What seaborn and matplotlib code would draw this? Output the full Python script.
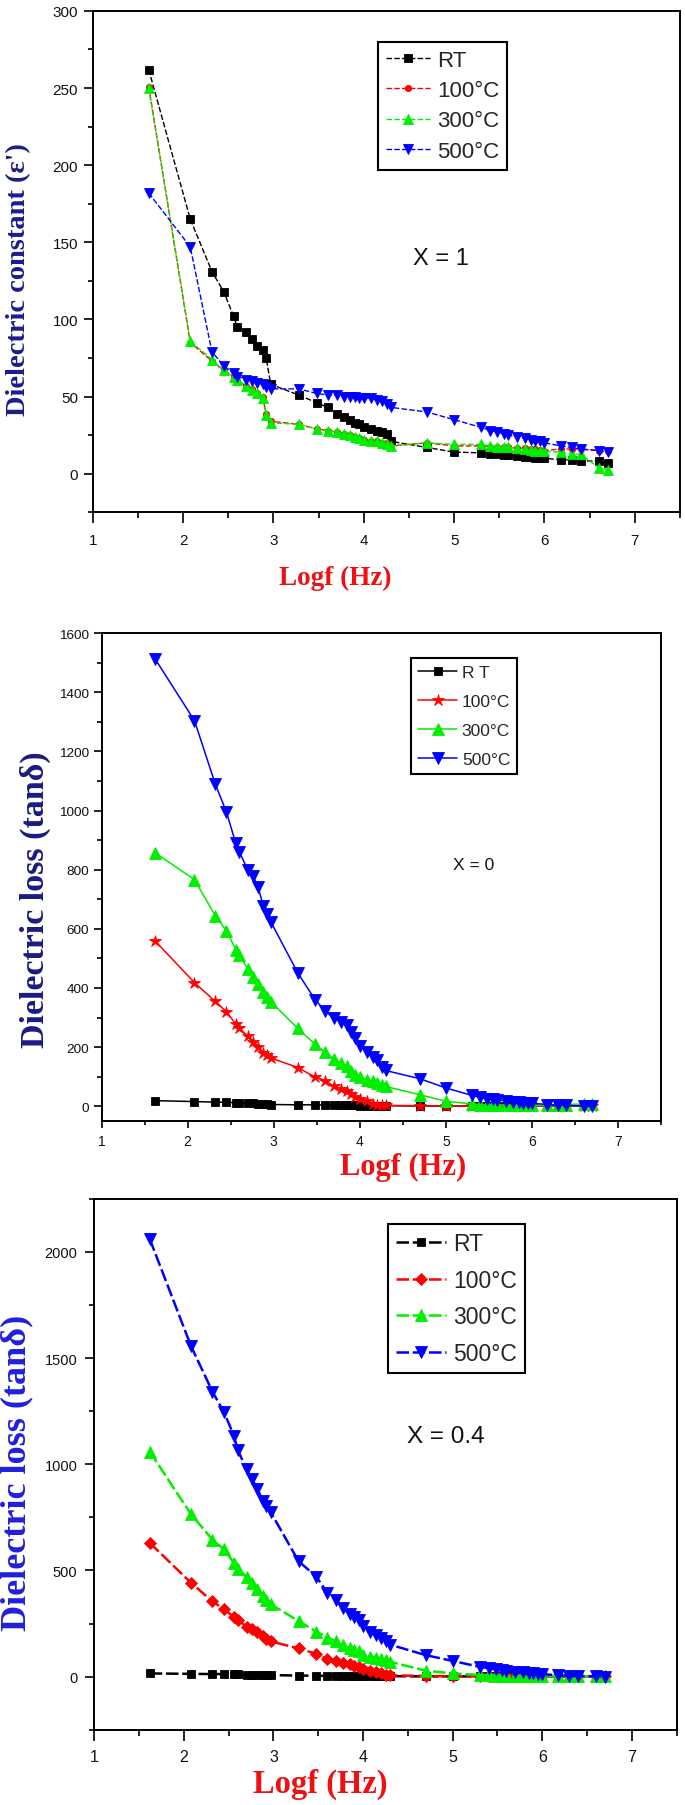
import matplotlib
matplotlib.use("Agg")
import matplotlib.pyplot as plt
from matplotlib.ticker import MultipleLocator
from matplotlib import font_manager
import seaborn as sns

sns.set_theme(style="ticks")
_avail = {f.name for f in font_manager.fontManager.ttflist}
NARROW = "Liberation Sans Narrow" if "Liberation Sans Narrow" in _avail else "Liberation Sans"
SANS = "Liberation Sans"
SERIF = "Liberation Serif"
plt.rcParams["font.family"] = [SANS, "DejaVu Sans"]

# ---------------- data ----------------
logf = [1.62, 2.08, 2.32, 2.45, 2.56, 2.60, 2.70, 2.76, 2.82, 2.88, 2.92, 2.97,
        3.28, 3.48, 3.60, 3.70, 3.78, 3.85, 3.90, 3.95, 4.00, 4.08, 4.15, 4.20,
        4.26, 4.30, 4.70, 5.00, 5.30, 5.40, 5.48, 5.55, 5.60, 5.70, 5.78, 5.85,
        5.90, 5.95, 6.00, 6.18, 6.30, 6.40, 6.60, 6.70]

legend_labels = ["RT", "100°C", "300°C", "500°C"]

# Panel 1: dielectric constant, X = 1
eps_RT = [262, 165, 131, 118, 102, 95, 92, 87, 83, 80, 75, 58, 51, 46, 43, 39, 37, 35, 33, 32,
          30, 29, 28, 27, 26, 21, 17, 14, 13.5, 13, 12.5, 12, 12, 11.5, 11, 11, 10.5, 10, 10, 9,
          9, 8.5, 8, 7]
eps_100 = [251, 85, 73, 67, 63, 60, 57, 55, 52, 50, 39, 34, 32, 29, 28, 27, 26, 25, 24, 23,
           22, 21, 21, 20, 20, 18, 20, 18, 18, 17.5, 17, 17, 17, 16.5, 16.5, 16, 16, 15.5, 15, 16,
           16, 16, 15, 15]
eps_300 = [250, 86, 74, 67, 63, 61, 57, 54, 52, 49, 38, 33, 32, 29, 28, 27, 26, 25, 24, 23,
           22, 21.5, 21, 20, 19.5, 18, 20, 19, 19, 18, 17.5, 17, 17, 16.5, 16, 15.5, 15, 15, 14.5, 14,
           13, 12.5, 4, 2.5]
eps_500 = [182, 147, 79, 70, 65, 63, 61, 60, 59, 58, 56, 55, 55, 52, 51, 51, 50, 50, 50, 49,
           49, 49, 48, 47, 45, 43, 40, 35, 30, 28, 27, 26, 25, 24, 23, 22, 21, 21, 20, 18,
           17, 16, 15, 14]

# Panel 2: dielectric loss, X = 0
loss0_RT = [19, 16, 14, 14, 12, 11, 10, 10, 9, 8, 7, 6, 5, 5, 4, 4, 3, 3, 3, 3,
            2, 2, 2, 2, 2, 2, 1, 1, 1, 1, 1, 1, 1, 1, 1, 1, 1, 1, 1, 1,
            1, 1, 1, 1]
loss0_100 = [560, 418, 355, 320, 278, 263, 238, 219, 202, 179, 172, 163, 131, 99, 87, 67, 59, 52, 41, 33,
             24, 17, 9, 5, 4, 3, 2, 1, 1, 1, 1, 0.5, 0.5, 0.5, 0.5, 0.5, 0.5, 0.5, 0.5, 0.5,
             0.5, 0.5, 0.5, 0.5]
loss0_300 = [858, 766, 645, 594, 530, 510, 465, 437, 415, 387, 370, 353, 263, 210, 182, 160, 146, 135, 120, 106,
             98, 90, 84, 78, 73, 67, 39, 17, 8, 6, 5, 4, 4, 3, 3, 3, 3, 3, 3, 4,
             5, 6, 8, 8]
loss0_500 = [1514, 1304, 1091, 996, 889, 861, 799, 779, 740, 678, 650, 622, 451, 361, 322, 297, 286, 274, 252, 230,
             205, 185, 165, 157, 134, 121, 93, 62, 37, 30, 26, 23, 21, 18, 16, 14, 12, 11, 10, 6,
             4, 3, 1, 1]

# Panel 3: dielectric loss, X = 0.4
loss4_RT = [15, 13, 12, 12, 11, 10, 9, 9, 8, 8, 7, 7, 5, 4, 4, 3, 3, 3, 3, 2,
            2, 2, 2, 2, 2, 2, 1, 1, 1, 1, 1, 1, 1, 1, 1, 1, 1, 1, 1, 1,
            1, 1, 1, 1]
loss4_100 = [630, 442, 354, 317, 280, 267, 236, 225, 212, 190, 175, 166, 133, 107, 83, 74, 65, 59, 52, 46,
             37, 28, 22, 15, 9, 6, 3, 2, 1, 1, 1, 1, 1, 1, 1, 1, 1, 1, 1, 1,
             1, 1, 1, 1]
loss4_300 = [1060, 765, 645, 599, 535, 507, 470, 442, 415, 378, 359, 341, 262, 212, 184, 166, 147, 133, 125, 120,
             101, 92, 88, 83, 77, 70, 28, 15, 8, 6, 5, 5, 4, 4, 3, 3, 3, 3, 2, 2,
             2, 2, 2, 2]
loss4_500 = [2061, 1557, 1342, 1244, 1134, 1069, 977, 931, 885, 829, 802, 774, 544, 470, 396, 359, 323, 295, 280, 267,
             240, 212, 194, 180, 166, 151, 101, 74, 46, 40, 35, 30, 27, 23, 20, 18, 16, 14, 12, 6,
             4, 3, 1, 0]

xticks = [1, 2, 3, 4, 5, 6, 7]
colors = ["#000000", "#ff0000", "#00ee00", "#0000ff"]

fig = plt.figure(figsize=(6.85, 18.06), dpi=100)


def panel(rect, series, labels, markers, msizes, lw, ls, ylim, ymaj, ymin,
          ylabel, ylab_color, ylab_size, ylab_pos, xlab_size, xlab_pos,
          tick_x_size, tick_y_size, xpad, ypad, xlen, ylen,
          leg_anchor, leg_font, leg_size, leg_spacing, leg_hlen, leg_pad,
          note, note_xy, note_size, note_font):
    ax = fig.add_axes(rect)
    for vals, lab, m, ms, c in zip(series, labels, markers, msizes, colors):
        sns.lineplot(x=logf, y=vals, ax=ax, color=c, marker=m, markersize=ms,
                     markeredgecolor=c, markeredgewidth=0.6, linewidth=lw,
                     linestyle=ls, label=lab, legend=False)
    ax.set_xlim(1, 7.5)
    ax.set_xticks(xticks)
    ax.xaxis.set_minor_locator(MultipleLocator(0.5))
    ax.yaxis.set_major_locator(MultipleLocator(ymaj))
    ax.yaxis.set_minor_locator(MultipleLocator(ymin))
    ax.set_ylim(*ylim)
    for s in ax.spines.values():
        s.set_visible(True)
        s.set_linewidth(1.4)
        s.set_color("black")
    ax.tick_params(axis="both", which="both", direction="out", top=False, right=False,
                   width=1.2, color="black", labelcolor="#111111")
    ax.tick_params(axis="x", which="major", length=xlen, pad=xpad, labelsize=tick_x_size)
    ax.tick_params(axis="x", which="minor", length=xlen * 0.55)
    ax.tick_params(axis="y", which="major", length=ylen, pad=ypad, labelsize=tick_y_size)
    ax.tick_params(axis="y", which="minor", length=ylen * 0.55)
    ax.set_xlabel("Logf (Hz)", family=[SERIF, "DejaVu Serif"], fontweight="bold",
                  fontsize=xlab_size, color="#ee1111")
    ax.xaxis.label.set_va("center")
    ax.xaxis.set_label_coords(*xlab_pos)
    ax.set_ylabel(ylabel, family=[SERIF, "DejaVu Serif"], fontweight="bold",
                  fontsize=ylab_size, color=ylab_color)
    ax.yaxis.label.set_va("center")
    ax.yaxis.set_label_coords(*ylab_pos)
    ax.set_facecolor("white")
    ax.grid(False)
    h, l = ax.get_legend_handles_labels()
    leg = ax.legend(h, l, loc="upper left", bbox_to_anchor=leg_anchor, frameon=True,
                    fancybox=False, edgecolor="black", framealpha=1, borderaxespad=0,
                    prop={"family": [leg_font, "DejaVu Sans"], "size": leg_size},
                    labelspacing=leg_spacing, handlelength=leg_hlen, handletextpad=0.3,
                    borderpad=leg_pad)
    leg.get_frame().set_linewidth(1.5)
    ax.text(note_xy[0], note_xy[1], note, ha="center", va="center",
            fontsize=note_size, family=[note_font, "DejaVu Sans"], color="#111111")
    return ax


panel([0.1353, 0.7158, 0.8574, 0.2776],
      [eps_RT, eps_100, eps_300, eps_500], legend_labels,
      ["s", "o", "^", "v"], [6.3, 4.5, 7.0, 7.0], 1.0, (0, (4, 1.6)),
      (-25, 300), 50, 25,
      "Dielectric constant (ε')", "#1c1c8c", 20.5, (-0.126, 0.467), 19.5, (0.413, -0.129),
      11, 11, 7, 4, 8, 6.5,
      (0.486, 0.938), NARROW, 16, 0.42, 2.0, 0.35,
      "X = 1", (4.85, 140), 17, NARROW)

panel([0.1482, 0.3787, 0.8168, 0.2702],
      [loss0_RT, loss0_100, loss0_300, loss0_500], ["R T", "100°C", "300°C", "500°C"],
      ["s", "*", "^", "v"], [6.0, 9.0, 8.5, 8.5], 1.1, "-",
      (-50, 1600), 200, 100,
      "Dielectric loss (tanδ)", "#1b1b80", 24.5, (-0.119, 0.455), 22, (0.539, -0.094),
      10, 9.7, 4, 3, 5, 6,
      (0.554, 0.949), SANS, 12.5, 0.8, 2.2, 0.4,
      "X = 0", (5.32, 817), 12.5, SANS)

panel([0.1375, 0.0417, 0.8504, 0.2939],
      [loss4_RT, loss4_100, loss4_300, loss4_500], legend_labels,
      ["s", "D", "^", "v"], [6.0, 6.0, 8.0, 8.0], 1.8, (0, (5, 1.5)),
      (-250, 2250), 500, 250,
      "Dielectric loss (tanδ)", "#2020dd", 26, (-0.133, 0.4865), 23.5, (0.388, -0.102),
      11.5, 10.5, 6, 5.5, 8, 6.5,
      (0.504, 0.953), NARROW, 16.5, 0.6, 2.2, 0.35,
      "X = 0.4", (4.92, 1133), 17.5, NARROW)

fig.savefig("out.png", dpi=100, facecolor="white")
